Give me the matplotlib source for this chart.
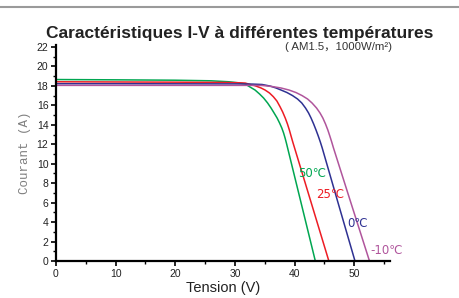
import matplotlib
matplotlib.use('Agg')
import matplotlib.pyplot as plt
from matplotlib.lines import Line2D
from matplotlib.ticker import MultipleLocator

# I-V curves (tension V, courant A)
v_50 = [0, 10, 20, 26, 29, 30.5, 31.71, 32.54, 33.38, 34.14, 34.81, 35.48, 36.06, 36.57, 37.07,
        37.49, 37.86, 38.16, 38.41, 38.63, 41.06, 43.48]
i_50 = [18.65, 18.62, 18.58, 18.52, 18.42, 18.32, 18.19, 17.88, 17.57, 17.16, 16.75, 16.24, 15.72, 15.21, 14.70,
        14.18, 13.67, 13.16, 12.64, 12.13, 6.06, 0]

v_25 = [0, 10, 20, 28, 30.5, 31.71, 33.38, 34.39, 35.06, 35.81, 36.45, 37.04, 37.57, 38.01, 38.46,
        38.81, 39.13, 39.41, 39.70, 42.70, 45.75]
i_25 = [18.42, 18.4, 18.38, 18.35, 18.32, 18.29, 18.01, 17.78, 17.57, 17.26, 16.88, 16.44, 15.85, 15.31, 14.66,
        14.08, 13.46, 12.85, 12.23, 6.17, 0]

v_0 = [0, 10, 20, 30, 33, 34.56, 35.90, 36.90, 37.74, 38.74, 39.66, 40.50, 41.21, 41.84, 42.35, 42.76,
       43.20, 43.60, 43.97, 44.32, 44.64, 47.35, 50.13]
i_0 = [18.22, 18.22, 18.21, 18.2, 18.18, 18.14, 17.98, 17.78, 17.57, 17.31, 17.0, 16.65, 16.24, 15.72, 15.21, 14.70,
       14.08, 13.46, 12.85, 12.23, 11.61, 5.86, 0]

v_m10 = [0, 10, 20, 30, 33, 34.56, 36.24, 37.74, 39.08, 40.25, 41.26, 42.18, 42.93, 43.69, 44.27, 44.74,
         45.19, 45.58, 45.91, 46.23, 46.53, 49.51, 52.56]
i_m10 = [18.05, 18.05, 18.05, 18.05, 18.05, 18.04, 17.93, 17.78, 17.57, 17.31, 17.0, 16.65, 16.24, 15.72, 15.21, 14.70,
         14.08, 13.46, 12.85, 12.23, 11.61, 5.86, 0]

labels = ['50℃', '25℃', '0℃', '-10℃']
label_pos = [(42.9, 9.0), (45.9, 6.8), (50.6, 3.9), (55.4, 1.1)]
colors = ['#00a651', '#ed1c24', '#2e3192', '#b0559c']

x_ticks = [0, 10, 20, 30, 40, 50]
y_ticks = [0, 2, 4, 6, 8, 10, 12, 14, 16, 18, 20, 22]

fig = plt.figure(figsize=(4.6, 2.98), dpi=100)
ax = fig.add_axes([0.1217, 0.1242, 0.7261, 0.7248])

curves = [(v_50, i_50), (v_25, i_25), (v_0, i_0), (v_m10, i_m10)]
for (v, i), c in zip(curves, colors):
    ax.plot(v, i, color=c, lw=1.1, solid_joinstyle='round')

for lab, (x, y), c in zip(labels, label_pos, colors):
    ax.text(x, y, lab, color=c, fontsize=8.5, ha='center', va='center',
            family='DejaVu Sans', clip_on=False)

ax.set_xlim(0, 56)
ax.set_ylim(0, 22.2)
ax.set_xticks(x_ticks)
ax.set_yticks(y_ticks)
ax.xaxis.set_minor_locator(MultipleLocator(5))
ax.yaxis.set_minor_locator(MultipleLocator(1))
ax.spines['right'].set_visible(False)
ax.spines['top'].set_visible(False)
ax.spines['left'].set_linewidth(1.6)
ax.spines['bottom'].set_linewidth(1.6)
ax.tick_params(which='major', direction='out', length=3.5, width=1.2, labelsize=7.5, pad=2)
ax.tick_params(which='minor', direction='out', length=2.5, width=1.0)
for lab in ax.get_xticklabels() + ax.get_yticklabels():
    lab.set_family('Liberation Sans')
    lab.set_color('#222222')

ax.set_xlabel('Tension (V)', fontsize=10.5, family='Liberation Sans', color='#222222', labelpad=2)

fig.text(0.054, 0.487, 'Courant (A)', rotation=90, ha='center', va='center',
         fontsize=9, family='Liberation Mono', color='#808080')

fig.text(0.52, 0.889, 'Caractéristiques I-V à différentes températures', ha='center', va='center',
         fontsize=12.5, fontweight='bold', family='Liberation Sans', color='#222222')
fig.text(0.735, 0.842, '( AM1.5，1000W/m²)', ha='center', va='center',
         fontsize=8.2, family=['Liberation Sans', 'Noto Sans CJK SC'], color='#333333')

# grey rule at the very top
fig.add_artist(Line2D([0, 1], [0.977, 0.977], transform=fig.transFigure, color='#9a9a9a', lw=1.5))

fig.savefig('out.png', dpi=100)
